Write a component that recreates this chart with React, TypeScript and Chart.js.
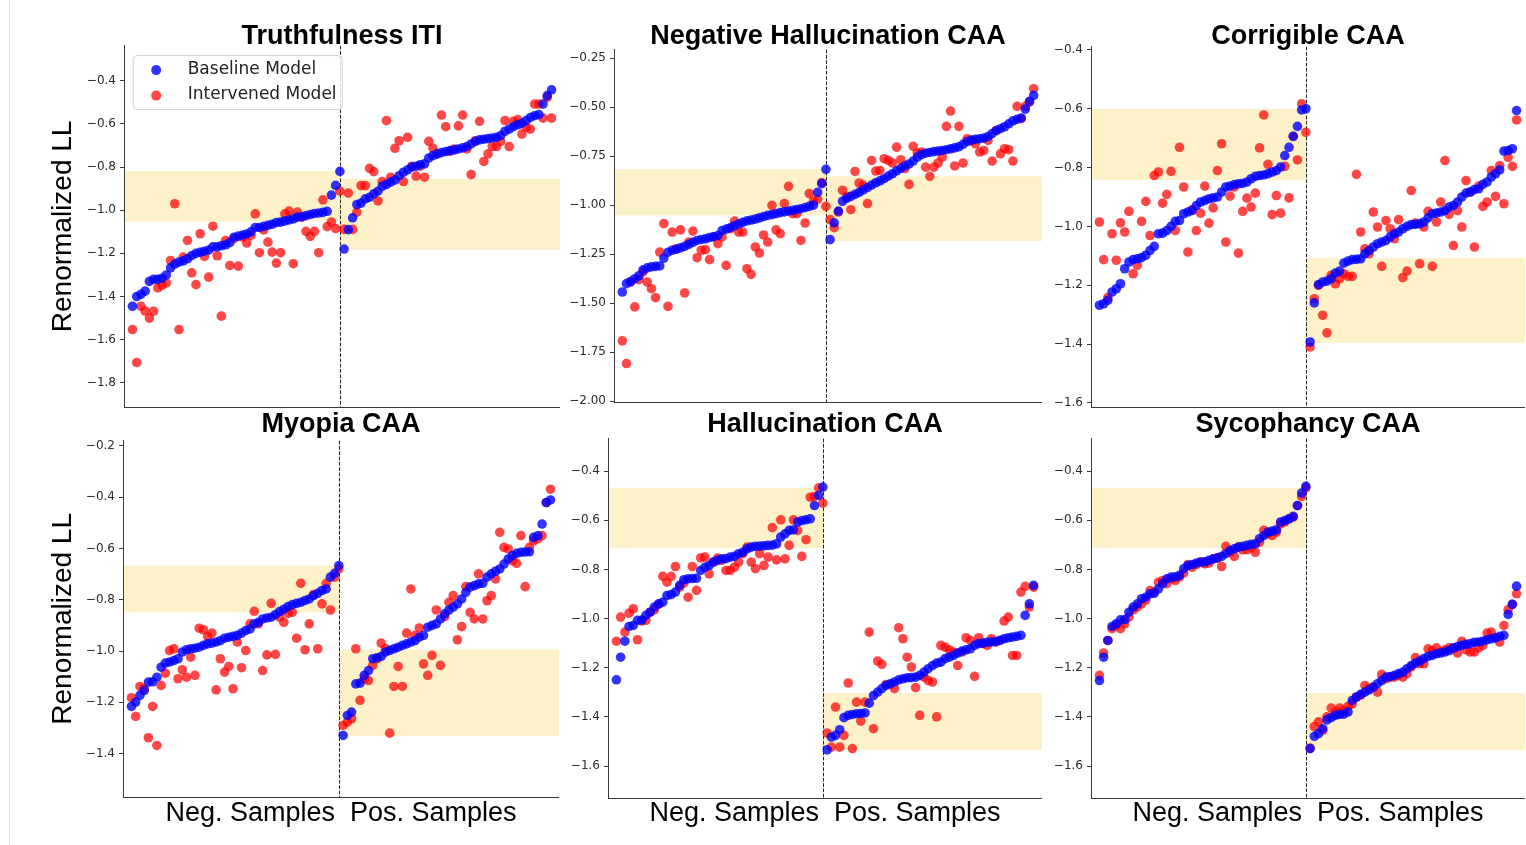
import React, { useEffect, useRef } from 'react';
import { Chart, registerables } from 'chart.js';

Chart.register(...registerables);

// ---------------- DATA ----------------
const seriesLabels = ['Baseline Model', 'Intervened Model'];
const panelTitles = ['Truthfulness ITI', 'Negative Hallucination CAA', 'Corrigible CAA', 'Myopia CAA', 'Hallucination CAA', 'Sycophancy CAA'];
const yAxisLabel = 'Renormalized LL';
const xAxisLabel = 'Neg. Samples  Pos. Samples';

// Truthfulness ITI
const truthBaseNeg = [-1.445,-1.40,-1.39,-1.375,-1.33,-1.32,-1.32,-1.315,-1.30,-1.267,-1.25,-1.24,-1.235,-1.225,-1.21,-1.20,-1.195,-1.19,-1.185,-1.17,-1.17,-1.165,-1.16,-1.15,-1.125,-1.12,-1.115,-1.11,-1.10,-1.08,-1.08,-1.075,-1.07,-1.065,-1.057,-1.055,-1.05,-1.045,-1.04,-1.032,-1.03,-1.025,-1.02,-1.015,-1.013,-1.01,-1.005,-0.93,-0.885,-0.82];
const truthIntNeg = [-1.553,-1.706,-1.445,-1.467,-1.50,-1.468,-1.36,-1.348,-1.337,-1.233,-0.97,-1.553,-1.217,-1.14,-1.29,-1.345,-1.109,-1.214,-1.31,-1.074,-1.211,-1.491,-1.14,-1.256,-1.132,-1.259,-1.125,-1.152,-1.117,-1.017,-1.197,-1.091,-1.148,-1.194,-1.245,-1.197,-1.017,-1.004,-1.248,-1.009,-1.032,-1.098,-1.121,-1.098,-1.197,-0.952,-1.076,-1.055,-1.085,-0.912];
const truthBasePos = [-1.18,-1.09,-1.035,-0.974,-0.967,-0.947,-0.94,-0.924,-0.912,-0.889,-0.881,-0.87,-0.86,-0.84,-0.824,-0.813,-0.80,-0.796,-0.789,-0.785,-0.758,-0.747,-0.739,-0.733,-0.728,-0.724,-0.721,-0.716,-0.711,-0.705,-0.693,-0.681,-0.674,-0.671,-0.668,-0.665,-0.662,-0.654,-0.634,-0.624,-0.613,-0.604,-0.597,-0.585,-0.57,-0.562,-0.557,-0.508,-0.469,-0.442];
const truthIntPos = [-1.089,-0.921,-1.089,-1.009,-0.886,-0.886,-0.806,-0.821,-0.957,-0.867,-0.585,-0.847,-0.713,-0.678,-0.867,-0.662,-0.796,-0.842,-0.796,-0.847,-0.681,-0.713,-0.739,-0.559,-0.613,-0.727,-0.716,-0.609,-0.559,-0.716,-0.835,-0.678,-0.588,-0.774,-0.739,-0.705,-0.705,-0.681,-0.585,-0.705,-0.588,-0.58,-0.647,-0.616,-0.624,-0.508,-0.508,-0.573,-0.477,-0.573];
const truthBands = [[-1.052, -0.819], [-1.183, -0.855]];
const truthTicks = [-1.8, -1.6, -1.4, -1.2, -1.0, -0.8, -0.6, -0.4];

// Negative Hallucination CAA
const negHalBaseNeg = [-1.443,-1.40,-1.39,-1.375,-1.36,-1.33,-1.32,-1.315,-1.312,-1.31,-1.27,-1.24,-1.23,-1.225,-1.218,-1.21,-1.20,-1.19,-1.18,-1.175,-1.172,-1.165,-1.16,-1.155,-1.13,-1.122,-1.115,-1.105,-1.095,-1.088,-1.08,-1.076,-1.071,-1.065,-1.058,-1.052,-1.048,-1.043,-1.038,-1.034,-1.03,-1.026,-1.022,-1.018,-1.012,-1.006,-1.0,-0.935,-0.89,-0.817];
const negHalIntNeg = [-1.692,-1.808,-1.392,-1.519,-1.38,-1.34,-1.392,-1.426,-1.472,-1.239,-1.094,-1.516,-1.137,-1.222,-1.126,-1.448,-1.188,-1.132,-1.268,-1.23,-1.227,-1.278,-1.162,-1.196,-1.162,-1.307,-1.12,-1.081,-1.137,-1.137,-1.324,-1.353,-1.213,-1.244,-1.152,-1.188,-1.001,-1.126,-1.145,-0.992,-0.904,-1.043,-1.043,-1.18,-1.091,-0.941,-0.98,-0.97,-0.885,-1.006];
const negHalBasePos = [-1.176,-1.09,-1.03,-0.98,-0.965,-0.955,-0.945,-0.935,-0.922,-0.91,-0.898,-0.886,-0.876,-0.865,-0.852,-0.84,-0.825,-0.812,-0.80,-0.79,-0.775,-0.755,-0.742,-0.735,-0.731,-0.727,-0.724,-0.721,-0.717,-0.713,-0.708,-0.702,-0.69,-0.675,-0.668,-0.664,-0.661,-0.658,-0.65,-0.635,-0.62,-0.61,-0.60,-0.585,-0.57,-0.562,-0.555,-0.51,-0.47,-0.44];
const negHalIntPos = [-1.074,-1.115,-1.035,-0.924,-0.955,-1.023,-0.828,-0.887,-0.899,-0.992,-0.772,-0.826,-0.823,-0.763,-0.772,-0.785,-0.704,-0.768,-0.814,-0.894,-0.70,-0.734,-0.729,-0.806,-0.853,-0.806,-0.785,-0.755,-0.598,-0.52,-0.80,-0.598,-0.785,-0.661,-0.673,-0.687,-0.729,-0.721,-0.67,-0.775,-0.619,-0.738,-0.712,-0.717,-0.775,-0.496,-0.559,-0.496,-0.474,-0.406];
const negHalBands = [[-1.052, -0.817], [-1.183, -0.853]];
const negHalTicks = [-2.0, -1.75, -1.5, -1.25, -1.0, -0.75, -0.5, -0.25];

// Corrigible CAA
const corrBaseNeg = [-1.268,-1.263,-1.251,-1.223,-1.212,-1.195,-1.144,-1.121,-1.113,-1.11,-1.106,-1.098,-1.082,-1.068,-1.025,-1.023,-1.014,-1.0,-0.983,-0.98,-0.957,-0.951,-0.946,-0.929,-0.917,-0.912,-0.906,-0.903,-0.90,-0.883,-0.866,-0.863,-0.858,-0.855,-0.854,-0.849,-0.838,-0.83,-0.827,-0.825,-0.821,-0.815,-0.81,-0.798,-0.759,-0.731,-0.694,-0.66,-0.604,-0.60];
const corrIntNeg = [-0.985,-1.113,-1.242,-1.025,-1.115,-0.988,-1.019,-0.949,-1.161,-1.132,-0.983,-0.915,-1.031,-0.827,-0.815,-0.921,-0.891,-0.813,-1.014,-0.731,-0.866,-1.087,-0.943,-1.014,-0.955,-0.863,-0.989,-0.937,-0.81,-0.719,-1.053,-0.897,-0.866,-1.091,-0.949,-0.904,-0.934,-0.887,-0.733,-0.621,-0.789,-0.96,-0.895,-0.955,-0.796,-0.903,-0.694,-0.774,-0.583,-0.68];
const corrBasePos = [-1.393,-1.26,-1.198,-1.189,-1.186,-1.178,-1.159,-1.152,-1.125,-1.118,-1.113,-1.112,-1.11,-1.093,-1.082,-1.07,-1.059,-1.053,-1.048,-1.036,-1.025,-1.019,-1.008,-1.0,-0.994,-0.993,-0.991,-0.985,-0.971,-0.957,-0.955,-0.951,-0.946,-0.934,-0.929,-0.917,-0.90,-0.887,-0.883,-0.875,-0.872,-0.857,-0.849,-0.832,-0.821,-0.808,-0.744,-0.742,-0.736,-0.606];
const corrIntPos = [-1.41,-1.246,-1.20,-1.302,-1.362,-1.166,-1.195,-1.178,-1.161,-1.17,-1.17,-0.823,-1.019,-1.076,-1.093,-0.951,-1.002,-1.136,-0.98,-1.008,-1.042,-0.977,-1.174,-1.152,-0.878,-0.989,-1.127,-1.002,-0.949,-1.136,-0.985,-0.917,-0.776,-0.959,-1.065,-0.946,-1.002,-0.844,-0.883,-1.07,-0.863,-0.932,-0.917,-0.81,-0.898,-0.793,-0.923,-0.765,-0.796,-0.638];
const corrBands = [[-0.842, -0.60], [-1.396, -1.108]];
const corrTicks = [-1.6, -1.4, -1.2, -1.0, -0.8, -0.6, -0.4];

// Myopia CAA
const myoBaseNeg = [-1.216,-1.199,-1.173,-1.154,-1.121,-1.12,-1.102,-1.063,-1.047,-1.043,-1.037,-1.03,-1.004,-0.995,-0.991,-0.989,-0.985,-0.978,-0.972,-0.969,-0.965,-0.959,-0.95,-0.946,-0.943,-0.939,-0.93,-0.92,-0.914,-0.894,-0.888,-0.875,-0.871,-0.868,-0.858,-0.846,-0.837,-0.827,-0.819,-0.814,-0.81,-0.803,-0.797,-0.784,-0.775,-0.764,-0.758,-0.712,-0.697,-0.667];
const myoIntNeg = [-1.182,-1.255,-1.138,-1.147,-1.338,-1.216,-1.368,-1.134,-1.086,-0.998,-0.991,-1.108,-1.073,-1.102,-1.024,-1.095,-0.911,-0.917,-0.943,-0.93,-1.151,-1.03,-1.082,-1.06,-1.147,-0.965,-1.065,-0.998,-0.894,-0.845,-0.894,-1.076,-1.015,-0.814,-1.013,-0.868,-0.888,-0.853,-0.849,-0.95,-0.736,-0.995,-0.894,-0.78,-0.991,-0.816,-0.736,-0.84,-0.712,-0.68];
const myoBasePos = [-1.329,-1.251,-1.238,-1.128,-1.125,-1.095,-1.076,-1.03,-1.026,-1.021,-1.004,-0.998,-0.991,-0.985,-0.978,-0.972,-0.965,-0.959,-0.946,-0.939,-0.907,-0.90,-0.894,-0.875,-0.855,-0.84,-0.829,-0.816,-0.797,-0.771,-0.751,-0.745,-0.738,-0.736,-0.712,-0.699,-0.689,-0.68,-0.661,-0.641,-0.628,-0.619,-0.615,-0.614,-0.613,-0.557,-0.55,-0.505,-0.421,-0.411];
const myoIntPos = [-1.29,-1.277,-1.264,-0.991,-1.192,-1.108,-1.115,-1.056,-1.03,-0.969,-0.991,-1.32,-1.138,-1.06,-1.138,-0.93,-0.758,-0.939,-0.91,-1.05,-1.095,-1.017,-0.84,-1.056,-0.866,-0.81,-0.784,-0.956,-0.905,-0.749,-0.849,-0.875,-0.699,-0.875,-0.804,-0.784,-0.719,-0.537,-0.596,-0.602,-0.648,-0.658,-0.55,-0.749,-0.596,-0.57,-0.563,-0.55,-0.421,-0.369];
const myoBands = [[-0.849, -0.667], [-1.331, -0.994]];
const myoTicks = [-1.4, -1.2, -1.0, -0.8, -0.6, -0.4, -0.2];

// Hallucination CAA
const halBaseNeg = [-1.249,-1.157,-1.092,-1.032,-1.028,-1.007,-1.006,-0.987,-0.974,-0.953,-0.94,-0.933,-0.906,-0.902,-0.892,-0.865,-0.842,-0.838,-0.837,-0.836,-0.804,-0.791,-0.784,-0.77,-0.763,-0.757,-0.756,-0.75,-0.747,-0.736,-0.73,-0.716,-0.709,-0.706,-0.705,-0.704,-0.702,-0.701,-0.696,-0.668,-0.655,-0.641,-0.639,-0.607,-0.601,-0.598,-0.594,-0.54,-0.499,-0.465];
const halIntNeg = [-1.092,-0.994,-1.055,-0.978,-0.96,-1.086,-1.01,-1.007,-0.974,-0.964,-0.942,-0.828,-0.852,-0.828,-0.788,-0.872,-0.856,-0.913,-0.788,-0.885,-0.753,-0.75,-0.818,-0.77,-0.754,-0.763,-0.804,-0.804,-0.791,-0.77,-0.736,-0.709,-0.77,-0.797,-0.736,-0.784,-0.75,-0.63,-0.761,-0.598,-0.757,-0.702,-0.598,-0.641,-0.747,-0.679,-0.506,-0.503,-0.468,-0.53];
const halBasePos = [-1.534,-1.482,-1.475,-1.452,-1.403,-1.394,-1.39,-1.387,-1.386,-1.384,-1.344,-1.313,-1.299,-1.285,-1.272,-1.265,-1.258,-1.249,-1.245,-1.241,-1.24,-1.238,-1.231,-1.218,-1.204,-1.191,-1.181,-1.177,-1.163,-1.157,-1.15,-1.14,-1.132,-1.127,-1.123,-1.109,-1.102,-1.10,-1.096,-1.095,-1.093,-1.089,-1.082,-1.078,-1.075,-1.072,-1.068,-0.987,-0.94,-0.865];
const halIntPos = [-1.466,-1.523,-1.36,-1.523,-1.475,-1.262,-1.529,-1.34,-1.417,-1.34,-1.055,-1.448,-1.173,-1.186,-1.268,-1.268,-1.285,-1.037,-1.082,-1.157,-1.197,-1.281,-1.394,-1.238,-1.252,-1.258,-1.40,-1.109,-1.116,-1.127,-1.136,-1.191,-1.136,-1.078,-1.089,-1.235,-1.078,-1.102,-1.109,-1.082,-1.096,-1.089,-1.01,-0.994,-1.15,-1.15,-0.892,-0.869,-0.953,-0.872];
const halBands = [[-0.712, -0.468], [-1.534, -1.303]];
const halTicks = [-1.6, -1.4, -1.2, -1.0, -0.8, -0.6, -0.4];

// Sycophancy CAA
const sycBaseNeg = [-1.252,-1.157,-1.089,-1.032,-1.021,-1.005,-1.004,-0.974,-0.953,-0.94,-0.919,-0.913,-0.899,-0.897,-0.879,-0.858,-0.838,-0.831,-0.83,-0.824,-0.797,-0.784,-0.78,-0.774,-0.77,-0.769,-0.763,-0.757,-0.753,-0.747,-0.736,-0.723,-0.716,-0.709,-0.706,-0.702,-0.698,-0.696,-0.675,-0.662,-0.648,-0.644,-0.639,-0.607,-0.601,-0.594,-0.584,-0.54,-0.489,-0.462];
const sycIntNeg = [-1.231,-1.14,-1.089,-1.041,-1.028,-1.041,-1.021,-0.994,-0.964,-0.953,-0.94,-0.924,-0.886,-0.892,-0.852,-0.845,-0.858,-0.838,-0.845,-0.831,-0.815,-0.78,-0.791,-0.78,-0.77,-0.777,-0.774,-0.757,-0.753,-0.788,-0.706,-0.73,-0.747,-0.709,-0.72,-0.72,-0.712,-0.73,-0.689,-0.641,-0.655,-0.662,-0.648,-0.614,-0.607,-0.594,-0.587,-0.54,-0.503,-0.468];
const sycBasePos = [-1.529,-1.479,-1.468,-1.448,-1.412,-1.403,-1.394,-1.39,-1.389,-1.38,-1.333,-1.319,-1.308,-1.299,-1.29,-1.279,-1.265,-1.252,-1.238,-1.236,-1.231,-1.224,-1.218,-1.204,-1.191,-1.181,-1.173,-1.163,-1.154,-1.15,-1.143,-1.14,-1.136,-1.13,-1.119,-1.114,-1.109,-1.105,-1.102,-1.096,-1.095,-1.092,-1.086,-1.082,-1.078,-1.072,-1.068,-0.983,-0.942,-0.868];
const sycIntPos = [-1.527,-1.439,-1.42,-1.455,-1.40,-1.364,-1.38,-1.364,-1.373,-1.357,-1.347,-1.319,-1.312,-1.272,-1.285,-1.279,-1.299,-1.227,-1.245,-1.238,-1.238,-1.231,-1.238,-1.224,-1.197,-1.159,-1.184,-1.184,-1.123,-1.13,-1.119,-1.136,-1.127,-1.119,-1.123,-1.14,-1.092,-1.127,-1.136,-1.136,-1.119,-1.109,-1.059,-1.055,-1.078,-1.096,-1.028,-0.964,-0.942,-0.899];
const sycBands = [[-0.712, -0.468], [-1.534, -1.303]];
const sycTicks = [-1.6, -1.4, -1.2, -1.0, -0.8, -0.6, -0.4];

// ---------------- LAYOUT / STYLE ----------------
const BLUE = 'rgba(0,0,255,0.8)';
const RED = 'rgba(255,0,0,0.72)';
const BAND = '#fcf1c8';
const AXIS = '#3a3a3a';

type Panel = {
  title: string;
  baseNeg: number[]; intNeg: number[]; basePos: number[]; intPos: number[];
  bands: number[][]; ticks: number[]; decimals: number;
  yMin: number; yMax: number;
  cx: number; cy: number; w: number; h: number;
  yW: number; xH: number;
  tTop: number; tBottom: number;
  yTitle: boolean; xTitle: boolean; xTitlePad: number; legend: boolean;
};

const panels: Panel[] = [
  { title: panelTitles[0], baseNeg: truthBaseNeg, intNeg: truthIntNeg, basePos: truthBasePos, intPos: truthIntPos, bands: truthBands, ticks: truthTicks, decimals: 1,
    yMin: -1.912, yMax: -0.238, cx: 0, cy: 0, w: 560, h: 421, yW: 124, xH: 14, tTop: 26.9, tBottom: 0, yTitle: true, xTitle: false, xTitlePad: 0, legend: true },
  { title: panelTitles[1], baseNeg: negHalBaseNeg, intNeg: negHalIntNeg, basePos: negHalBasePos, intPos: negHalIntPos, bands: negHalBands, ticks: negHalTicks, decimals: 2,
    yMin: -2.004, yMax: -0.207, cx: 560, cy: 0, w: 482, h: 416, yW: 54, xH: 14, tTop: 26.9, tBottom: 3.9, yTitle: false, xTitle: false, xTitlePad: 0, legend: false },
  { title: panelTitles[2], baseNeg: corrBaseNeg, intNeg: corrIntNeg, basePos: corrBasePos, intPos: corrIntPos, bands: corrBands, ticks: corrTicks, decimals: 1,
    yMin: -1.614, yMax: -0.389, cx: 1042, cy: 0, w: 483, h: 421, yW: 49, xH: 14, tTop: 26.9, tBottom: 0.9, yTitle: false, xTitle: false, xTitlePad: 0, legend: false },
  { title: panelTitles[3], baseNeg: myoBaseNeg, intNeg: myoIntNeg, basePos: myoBasePos, intPos: myoIntPos, bands: myoBands, ticks: myoTicks, decimals: 1,
    yMin: -1.569, yMax: -0.18, cx: 0, cy: 410, w: 559, h: 427, yW: 123, xH: 40, tTop: 4.9, tBottom: 6.9, yTitle: true, xTitle: true, xTitlePad: 9.5, legend: false },
  { title: panelTitles[4], baseNeg: halBaseNeg, intNeg: halIntNeg, basePos: halBasePos, intPos: halIntPos, bands: halBands, ticks: halTicks, decimals: 1,
    yMin: -1.73, yMax: -0.268, cx: 560, cy: 410, w: 482, h: 428, yW: 48, xH: 40, tTop: 4.9, tBottom: 4.9, yTitle: false, xTitle: true, xTitlePad: 10.5, legend: false },
  { title: panelTitles[5], baseNeg: sycBaseNeg, intNeg: sycIntNeg, basePos: sycBasePos, intPos: sycIntPos, bands: sycBands, ticks: sycTicks, decimals: 1,
    yMin: -1.73, yMax: -0.268, cx: 1042, cy: 410, w: 483, h: 428, yW: 49, xH: 40, tTop: 4.9, tBottom: 4.9, yTitle: false, xTitle: true, xTitlePad: 10.5, legend: false },
];

const fmt = (v: number, d: number) => (v < 0 ? '\u2212' : '') + Math.abs(v).toFixed(d);

const decorPlugin = {
  id: 'decor',
  beforeDraw(chart: any) {
    const o = chart.options.plugins.decor;
    if (!o) return;
    const { ctx, chartArea: a, scales } = chart;
    const xs = scales.x, ys = scales.y;
    const split = xs.getPixelForValue(o.split);
    ctx.save();
    ctx.fillStyle = BAND;
    const [nb, pb] = o.bands;
    const ny1 = ys.getPixelForValue(nb[1]), ny0 = ys.getPixelForValue(nb[0]);
    ctx.fillRect(a.left, ny1, split - a.left, ny0 - ny1);
    const py1 = ys.getPixelForValue(pb[1]), py0 = ys.getPixelForValue(pb[0]);
    ctx.fillRect(split, py1, a.right - split, py0 - py1);
    ctx.restore();
  },
  beforeDatasetsDraw(chart: any) {
    const o = chart.options.plugins.decor;
    if (!o) return;
    const { ctx, chartArea: a, scales } = chart;
    const x = Math.round(scales.x.getPixelForValue(o.split)) + 0.5;
    ctx.save();
    ctx.strokeStyle = '#222';
    ctx.lineWidth = 1;
    ctx.setLineDash([3.7, 1.6]);
    ctx.beginPath();
    ctx.moveTo(x, a.top);
    ctx.lineTo(x, a.bottom);
    ctx.stroke();
    ctx.restore();
  },
  afterDatasetsDraw(chart: any) {
    const o = chart.options.plugins.decor;
    if (!o || !o.legend) return;
    const { ctx, chartArea: a } = chart;
    const left = a.left + 8.7, top = a.top + 9.3, w = 209, h = 54;
    ctx.save();
    ctx.fillStyle = 'rgba(255,255,255,0.85)';
    ctx.strokeStyle = '#d0d0d0';
    ctx.lineWidth = 1;
    ctx.beginPath();
    ctx.roundRect(left + 0.5, top + 0.5, w, h, 4);
    ctx.fill();
    ctx.stroke();
    ctx.font = '17px "DejaVu Sans"';
    ctx.textBaseline = 'middle';
    ctx.textAlign = 'left';
    chart.data.datasets.forEach((ds: any, i: number) => {
      const cy = top + 15 + i * 25.5;
      ctx.fillStyle = ds.backgroundColor;
      ctx.beginPath();
      ctx.arc(left + 23.5, cy, 5, 0, Math.PI * 2);
      ctx.fill();
      ctx.fillStyle = '#222';
      ctx.fillText(ds.label, left + 55, cy - 1);
    });
    ctx.restore();
  },
};

function makeConfig(p: Panel): any {
  const nNeg = p.baseNeg.length;
  const pts = (neg: number[], pos: number[]) => [
    ...neg.map((y, i) => ({ x: i, y })),
    ...pos.map((y, i) => ({ x: nNeg + i, y })),
  ];
  const pointStyle = { pointRadius: 4.8, pointHoverRadius: 4.8, pointBorderWidth: 0, borderWidth: 0 };
  return {
    type: 'scatter',
    data: {
      datasets: [
        { label: seriesLabels[0], data: pts(p.baseNeg, p.basePos), backgroundColor: BLUE, borderColor: BLUE, ...pointStyle },
        { label: seriesLabels[1], data: pts(p.intNeg, p.intPos), backgroundColor: RED, borderColor: RED, ...pointStyle },
      ],
    },
    options: {
      animation: false,
      responsive: false,
      maintainAspectRatio: false,
      events: [],
      layout: { padding: 0, autoPadding: false },
      plugins: {
        legend: { display: false },
        tooltip: { enabled: false },
        title: {
          display: true,
          text: p.title,
          fullSize: false,
          color: '#000',
          font: { family: '"Liberation Sans", Arial, sans-serif', size: 27, weight: 'bold', lineHeight: 0.7 },
          padding: { top: p.tTop, bottom: p.tBottom },
        },
        decor: { split: nNeg - 1, bands: p.bands, legend: p.legend },
      },
      scales: {
        x: {
          type: 'linear',
          min: -2,
          max: 101,
          ticks: { display: false },
          grid: { display: false },
          border: { display: true, color: AXIS, width: 1 },
          title: {
            display: p.xTitle,
            text: xAxisLabel,
            color: '#000',
            font: { family: '"Liberation Sans", Arial, sans-serif', size: 27, lineHeight: 1 },
            padding: { top: 0, bottom: p.xTitlePad },
          },
          afterFit: (s: any) => { s.height = p.xH; },
        },
        y: {
          type: 'linear',
          min: p.yMin,
          max: p.yMax,
          afterBuildTicks: (s: any) => { s.ticks = p.ticks.map((v) => ({ value: v })); },
          ticks: {
            callback: (v: number) => fmt(v, p.decimals),
            font: { family: '"DejaVu Sans", sans-serif', size: 12 },
            color: '#2b2b2b',
            padding: 4,
          },
          grid: { display: true, drawOnChartArea: false, drawTicks: true, tickLength: 4, color: AXIS, tickColor: AXIS, lineWidth: 1 },
          border: { display: true, color: AXIS, width: 1 },
          title: {
            display: p.yTitle,
            text: yAxisLabel,
            color: '#000',
            font: { family: '"Liberation Sans", Arial, sans-serif', size: 28, lineHeight: 1 },
            padding: { top: 49.5, bottom: 0 },
          },
          afterFit: (s: any) => { s.width = p.yW; },
        },
      },
    },
    plugins: [decorPlugin],
  };
}

function PanelChart({ p }: { p: Panel }) {
  const ref = useRef<HTMLCanvasElement>(null);
  useEffect(() => {
    const chart = new Chart(ref.current as HTMLCanvasElement, makeConfig(p));
    return () => chart.destroy();
  }, [p]);
  return (
    <canvas
      ref={ref}
      width={p.w}
      height={p.h}
      style={{ position: 'absolute', left: p.cx, top: p.cy, width: p.w, height: p.h, display: 'block' }}
    />
  );
}

export default function App() {
  useEffect(() => {
    document.body.style.overflow = 'hidden';
  }, []);
  return (
    <div style={{ position: 'absolute', left: 0, top: 0, width: 1526, height: 845, background: '#fff', overflow: 'hidden' }}>
      <div style={{ position: 'absolute', left: 9, top: 0, width: 1, height: 845, background: '#e2e2e2' }} />
      {panels.map((p, i) => <PanelChart key={i} p={p} />)}
    </div>
  );
}
